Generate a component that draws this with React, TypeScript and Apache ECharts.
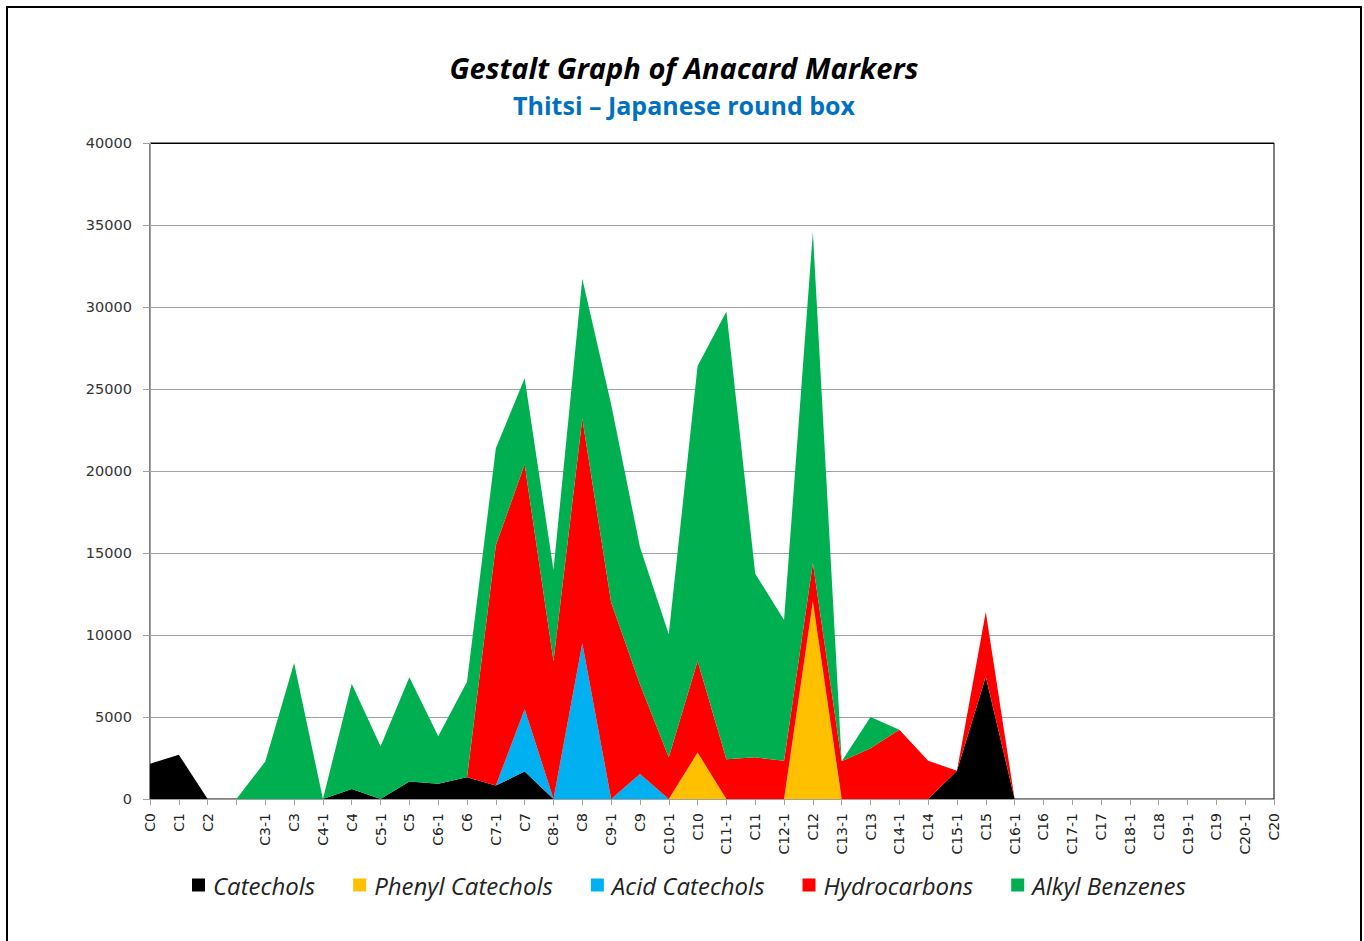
import React, { useEffect, useRef } from "react";
import * as echarts from "echarts";

const categories = [
  "C0", "C1", "C2", "", "C3-1", "C3", "C4-1", "C4", "C5-1", "C5",
  "C6-1", "C6", "C7-1", "C7", "C8-1", "C8", "C9-1", "C9", "C10-1", "C10",
  "C11-1", "C11", "C12-1", "C12", "C13-1", "C13", "C14-1", "C14", "C15-1", "C15",
  "C16-1", "C16", "C17-1", "C17", "C18-1", "C18", "C19-1", "C19", "C20-1", "C20",
];

const catechols = [
  2150, 2700, 0, 0, 0, 0, 0, 610, 0, 1070,
  930, 1320, 820, 1680, 0, 0, 0, 0, 0, 0,
  0, 0, 0, 0, 0, 0, 0, 0, 1730, 7450,
  0, 0, 0, 0, 0, 0, 0, 0, 0, 0,
];

const phenylCatechols = [
  0, 0, 0, 0, 0, 0, 0, 0, 0, 0,
  0, 0, 0, 0, 0, 0, 0, 0, 0, 2830,
  0, 0, 0, 12050, 0, 0, 0, 0, 0, 0,
  0, 0, 0, 0, 0, 0, 0, 0, 0, 0,
];

const acidCatechols = [
  0, 0, 0, 0, 0, 0, 0, 0, 0, 0,
  0, 0, 0, 3800, 0, 9500, 0, 1520, 0, 0,
  0, 0, 0, 0, 0, 0, 0, 0, 0, 0,
  0, 0, 0, 0, 0, 0, 0, 0, 0, 0,
];

const hydrocarbons = [
  0, 0, 0, 0, 0, 0, 0, 0, 0, 0,
  0, 0, 14660, 14930, 8410, 13700, 12000, 5480, 2540, 5580,
  2430, 2540, 2330, 2340, 2300, 3100, 4220, 2330, 0, 3960,
  0, 0, 0, 0, 0, 0, 0, 0, 0, 0,
];

const alkylBenzenes = [
  0, 0, 0, 0, 2290, 8290, 0, 6420, 3210, 6350,
  2890, 5830, 5910, 5240, 5550, 8520, 12070, 8370, 7500, 18000,
  27290, 11200, 8580, 20180, 0, 1900, 0, 0, 0, 0,
  0, 0, 0, 0, 0, 0, 0, 0, 0, 0,
];

const seriesNames = ["Catechols", "Phenyl Catechols", "Acid Catechols", "Hydrocarbons", "Alkyl Benzenes"];
const seriesColors = ["#000000", "#FFC000", "#00B0F0", "#FF0000", "#00B050"];
const seriesData = [catechols, phenylCatechols, acidCatechols, hydrocarbons, alkylBenzenes];

export default function App() {
  const ref = useRef<HTMLDivElement>(null);
  useEffect(() => {
    if (!ref.current) return;
    const chart = echarts.init(ref.current, null, { renderer: "svg" });
    const gridColors = ["#a0a0a0", "#a0a0a0", "#a0a0a0", "#a0a0a0", "#a0a0a0", "#a0a0a0", "#a0a0a0", "#a0a0a0", "#000000"];
    chart.setOption({
      animation: false,
      backgroundColor: "#ffffff",
      title: [
        {
          text: "Gestalt Graph of Anacard Markers",
          left: "center",
          top: 40,
          textStyle: {
            fontFamily: "Open Sans",
            fontStyle: "italic",
            fontWeight: "bold",
            fontSize: 29,
            color: "#000000",
          },
        },
        {
          text: "Thitsi – Japanese round box",
          left: "center",
          top: 79,
          textStyle: {
            fontFamily: "Open Sans",
            fontWeight: "bold",
            fontSize: 25,
            color: "#0070C0",
          },
        },
      ],
      legend: {
        data: seriesNames,
        left: 179,
        top: 860,
        icon: "rect",
        itemWidth: 13,
        itemHeight: 13,
        itemGap: 38,
        textStyle: {
          fontFamily: "Open Sans",
          fontStyle: "italic",
          fontSize: 24,
          color: "#222222",
          padding: [0, 0, 0, 3],
        },
      },
      grid: {
        left: 142,
        right: 86,
        top: 135,
        bottom: 165,
        show: true,
        borderColor: "#000000",
        borderWidth: 1,
        containLabel: false,
      },
      xAxis: {
        type: "category",
        data: categories,
        boundaryGap: false,
        axisLine: { lineStyle: { color: "#a0a0a0", width: 1 } },
        axisTick: { show: true, alignWithLabel: true, interval: 0, length: 6, lineStyle: { color: "#a0a0a0" } },
        axisLabel: {
          interval: 0,
          rotate: 90,
          margin: 14,
          fontFamily: "DejaVu Sans",
          fontSize: 14,
          color: "#222222",
        },
        splitLine: { show: false },
      },
      yAxis: {
        type: "value",
        min: 0,
        max: 40000,
        interval: 5000,
        axisLine: { show: true, lineStyle: { color: "#a0a0a0", width: 1 } },
        axisTick: { show: true, length: 7, lineStyle: { color: "#a0a0a0" } },
        axisLabel: {
          margin: 18,
          fontFamily: "DejaVu Sans",
          fontSize: 14.5,
          color: "#333333",
          formatter: (v: number) => String(v),
        },
        splitLine: { show: true, lineStyle: { color: gridColors, width: 1 } },
      },
      series: seriesNames.map((name, i) => ({
        name,
        type: "line",
        stack: "total",
        data: seriesData[i],
        symbol: "none",
        showSymbol: false,
        lineStyle: { width: 0, color: seriesColors[i] },
        itemStyle: { color: seriesColors[i] },
        areaStyle: { color: seriesColors[i], opacity: 1 },
        emphasis: { disabled: true },
        z: 2,
      })),
    });
    return () => chart.dispose();
  }, []);

  return (
    <div
      style={{
        position: "absolute",
        left: 6,
        top: 6,
        width: 1356,
        height: 960,
        border: "2px solid #000",
        boxSizing: "border-box",
        background: "#fff",
      }}
    >
      <div ref={ref} style={{ width: 1352, height: 956 }} />
    </div>
  );
}
